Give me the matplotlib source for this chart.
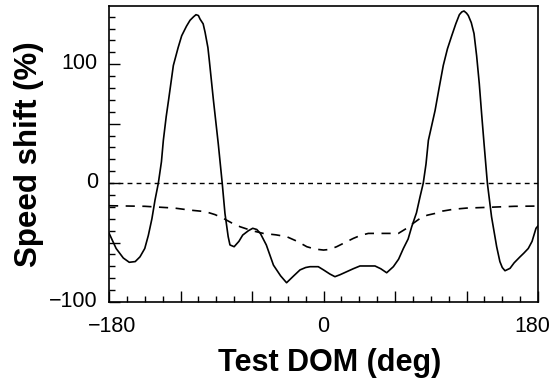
import matplotlib
matplotlib.use("Agg")
import matplotlib.pyplot as plt
from matplotlib.ticker import MultipleLocator, FuncFormatter
import matplotlib.transforms as mtransforms
import numpy as np

plt.rcParams['font.family'] = ['Liberation Sans', 'DejaVu Sans']

# Solid curve: speed shift vs test direction of motion
dom = [-180, -174, -168, -163, -158, -154, -150, -147, -144, -141.4, -138.6, -136, -134.4, -132, -130,
       -126, -122, -119, -115, -112, -109, -107, -105, -103.6, -101, -99.4, -97, -95.8, -92.4,
       -88.3, -85, -82.7, -80, -78.5, -75, -71, -67.8, -63, -59.4, -56, -53, -48, -42, -36, -31,
       -25, -19.7, -15, -11.3, -4.4, 0, 5.4, 9.6, 14, 19.5, 25, 30.6, 37, 43.2, 48, 53, 58.6, 63,
       67, 71, 74, 78, 81, 83.7, 86, 88, 93.6, 97, 100.5, 104, 107.6, 111, 114, 116, 117.9, 120,
       121.5, 124, 126.3, 128.5, 130.7, 132.7, 134.7, 137.5, 141, 145.3, 148, 150, 152.3, 156.5,
       160, 164.9, 168, 171.8, 175, 178.3, 180]
shift = [-42, -55, -63, -66.6, -66, -62, -55, -44, -30, -14.3, 0, 18, 36, 56, 70,
         99, 114, 124, 132, 137, 140, 141.7, 141, 138, 134, 127, 114, 103, 70,
         33, 0, -25.5, -45, -52, -53.5, -49, -43.7, -40, -38, -39, -42.3, -52, -69, -78, -83.8,
         -78, -73, -71, -70.3, -70.3, -73, -76.5, -78.7, -77, -74.5, -72, -69.7, -69.7, -69.7, -72, -75.4, -70.3, -64,
         -55, -47, -36.7, -25, -11.5, 0, 16, 36, 61, 80, 99, 113, 124, 134, 141.7, 144, 144.8, 143,
         141, 135, 125.8, 107, 83.8, 58, 33.4, 0, -28.3, -53.5, -66, -71, -73.7, -71.7,
         -67, -62, -59, -55, -49, -38, -36]

# Dashed curve: reference shift
dom_ref = [-180, -150, -125, -112, -99, -91, -84, -77, -70, -60, -50.5, -40, -31, -22, -14, -7, 0,
           5, 11, 18, 25, 31, 37.6, 50, 62.8, 69.8, 75, 81, 87, 93.6, 100, 109, 120, 137, 160, 180]
shift_ref = [-19, -19.5, -21, -22.7, -24, -26.5, -29.7, -33.5, -36.7, -40, -42.3, -43.5, -45, -49, -53.5, -55.5, -56.3,
             -55.8, -53.5, -50, -46.5, -44, -42.3, -42.3, -42.3, -38, -34, -29.7, -27, -25.5, -23.5, -22, -21, -20.4, -19.5, -19.3]

xtick_labels = [-180, 0, 180]
ytick_labels = [-100, 0, 100]

fig = plt.figure(figsize=(5.55, 3.83), dpi=100)
ax = fig.add_axes([0.1964, 0.2115, 0.7730, 0.7728])

ax.plot(dom, shift, color='black', lw=1.2, solid_joinstyle='round')
ax.plot(dom_ref, shift_ref, color='black', lw=1.2, dashes=(5.5, 4.5))
ax.axhline(0, color='black', lw=1.0, dashes=(3.5, 3))

ax.set_xlim(-180, 180)
ax.set_ylim(-100, 149)

ax.xaxis.set_major_locator(MultipleLocator(60))
ax.xaxis.set_minor_locator(MultipleLocator(15))
ax.yaxis.set_major_locator(MultipleLocator(50))
ax.yaxis.set_minor_locator(MultipleLocator(10))
ax.xaxis.set_major_formatter(FuncFormatter(lambda v, p: f"{v:.0f}".replace('-', '\u2212') if round(v) in xtick_labels else ""))
ax.yaxis.set_major_formatter(FuncFormatter(lambda v, p: f"{v:.0f}".replace('-', '\u2212') if round(v) in ytick_labels else ""))
ax.tick_params(which='both', direction='in', top=False, right=False, width=1.0)
ax.tick_params(which='major', length=8, labelsize=15.5)
ax.tick_params(axis='x', which='major', pad=10)
ax.tick_params(axis='y', which='major', pad=8)
ax.tick_params(which='minor', length=4.3)

fig.canvas.draw()
# y tick labels sit slightly above their ticks
offset_y = mtransforms.ScaledTranslation(0, 3 / 100, fig.dpi_scale_trans)
for lab in ax.get_yticklabels():
    lab.set_transform(lab.get_transform() + offset_y)
# outer x tick labels pulled inward as in the reference
for lab in ax.get_xticklabels():
    t = lab.get_text()
    if t == '180':
        lab.set_transform(lab.get_transform() + mtransforms.ScaledTranslation(-6 / 100, 0, fig.dpi_scale_trans))
    elif t.endswith('180'):
        lab.set_transform(lab.get_transform() + mtransforms.ScaledTranslation(3 / 100, 0, fig.dpi_scale_trans))

for s in ax.spines.values():
    s.set_linewidth(1.2)

ax.set_xlabel('Test DOM (deg)', fontsize=22, fontweight='bold', labelpad=8)
ax.set_ylabel('Speed shift (%)', fontsize=22.5, fontweight='bold', labelpad=4)
ax.xaxis.set_label_coords(0.515, -0.155)

fig.savefig('out.png', dpi=100)
